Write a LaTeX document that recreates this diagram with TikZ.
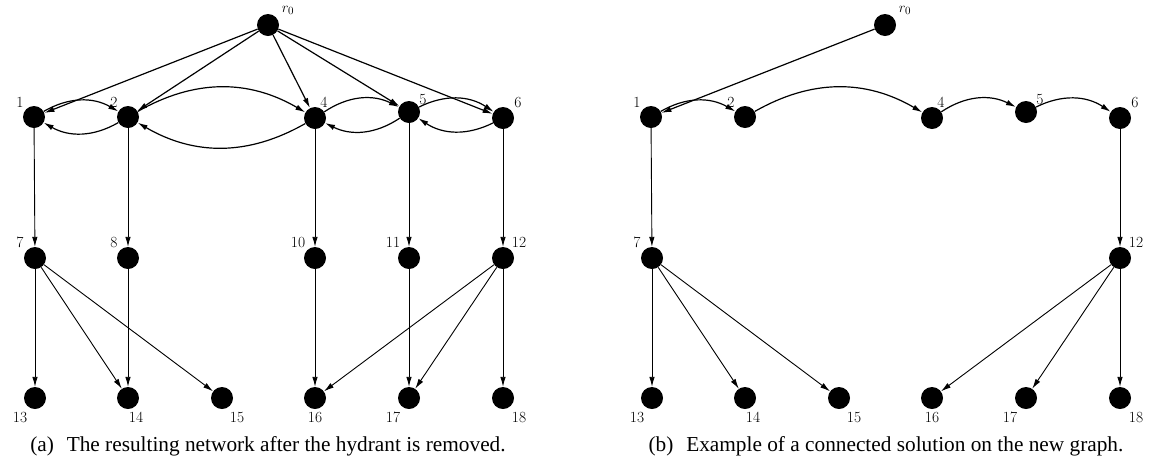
\documentclass[tikz,border=0pt]{standalone}
\usepackage{fontspec}
\newfontfamily\capfont{Liberation Serif}
\usetikzlibrary{arrows.meta}
\begin{document}
\begin{tikzpicture}[x=1pt,y=-1pt,
  vertex/.style={circle,fill=black,minimum size=22pt,inner sep=0pt},
  lbl/.style={inner sep=0pt,font=\fontsize{15.5}{18}\selectfont},
  arr/.style={-{Latex[length=10pt,width=5.5pt]},line width=0.9pt},
  toparr/.style={arr,line width=1.2pt},
  caption/.style={inner sep=0pt,font=\capfont\fontsize{21.3}{25}\selectfont}]
\useasboundingbox (0,0) rectangle (1161,467);

% (a) network without the hydrant
\foreach \n/\x/\y/\lx/\ly/\t in {
   0/268/25/288/10/{$r_0$},
   1/34/117/20/102/1, 2/128/117/114/102/2, 4/315/118/324/102/4,
   5/409/112/423/100/5, 6/503/118/518/102/6,
   7/35/258/20/242/7, 8/128/258/114/242/8, 10/315/258/298/242/10,
   11/409/258/393/242/11, 12/503/258/519/242/12,
   13/35/398/20/417/13, 14/128/398/136/417/14, 15/222/398/237/417/15,
   16/315/398/315/417/16, 17/409/398/393/417/17, 18/503/398/519/417/18}{
  \node[vertex] (a\n) at (\x,\y) {};
  \node[lbl] (al\n) at (\lx,\ly) {\t};
}
\foreach \t in {1,2,4,5,6}{\draw[toparr] (a0) -- (a\t);}
\draw[toparr] (a1) to[bend left=30] (a2);
\draw[toparr] (a2) to[bend left=30] (a1);
\draw[toparr] (a2) to[bend left=30] (a4);
\draw[toparr] (a4) to[bend left=30] (a2);
\draw[toparr] (a4) to[bend left=30] (a5);
\draw[toparr] (a5) to[bend left=30] (a4);
\draw[toparr] (a5) to[bend left=30] (a6);
\draw[toparr] (a6) to[bend left=30] (a5);
\foreach \s/\t in {1/7,2/8,4/10,5/11,6/12,7/13,7/14,7/15,8/14,10/16,11/17,12/16,12/17,12/18}{
  \draw[arr] (a\s) -- (a\t);}
\node[caption] (capa) at (268,446) {(a)\hspace{0.6em}The resulting network after the hydrant is removed.};

% (b) connected solution, same layout shifted right
\foreach \n/\x/\y/\lx/\ly/\t in {
   0/268/25/288/10/{$r_0$},
   1/34/117/20/102/1, 2/128/117/114/102/2, 4/315/118/324/102/4,
   5/409/112/423/100/5, 6/503/118/518/102/6,
   7/35/258/20/242/7, 12/503/258/519/242/12,
   13/35/398/20/417/13, 14/128/398/136/417/14, 15/222/398/237/417/15,
   16/315/398/315/417/16, 17/409/398/393/417/17, 18/503/398/519/417/18}{
  \node[vertex] (b\n) at (\x+617,\y) {};
  \node[lbl] (bl\n) at (\lx+617,\ly) {\t};
}
\draw[toparr] (b0) -- (b1);
\draw[toparr] (b1) to[bend left=30] (b2);
\draw[toparr] (b2) to[bend left=30] (b4);
\draw[toparr] (b4) to[bend left=30] (b5);
\draw[toparr] (b5) to[bend left=30] (b6);
\foreach \s/\t in {1/7,6/12,7/13,7/14,7/15,12/16,12/17,12/18}{
  \draw[arr] (b\s) -- (b\t);}
\node[caption] (capb) at (886,446) {(b)\hspace{0.6em}Example of a connected solution on the new graph.};
\end{tikzpicture}
\end{document}
